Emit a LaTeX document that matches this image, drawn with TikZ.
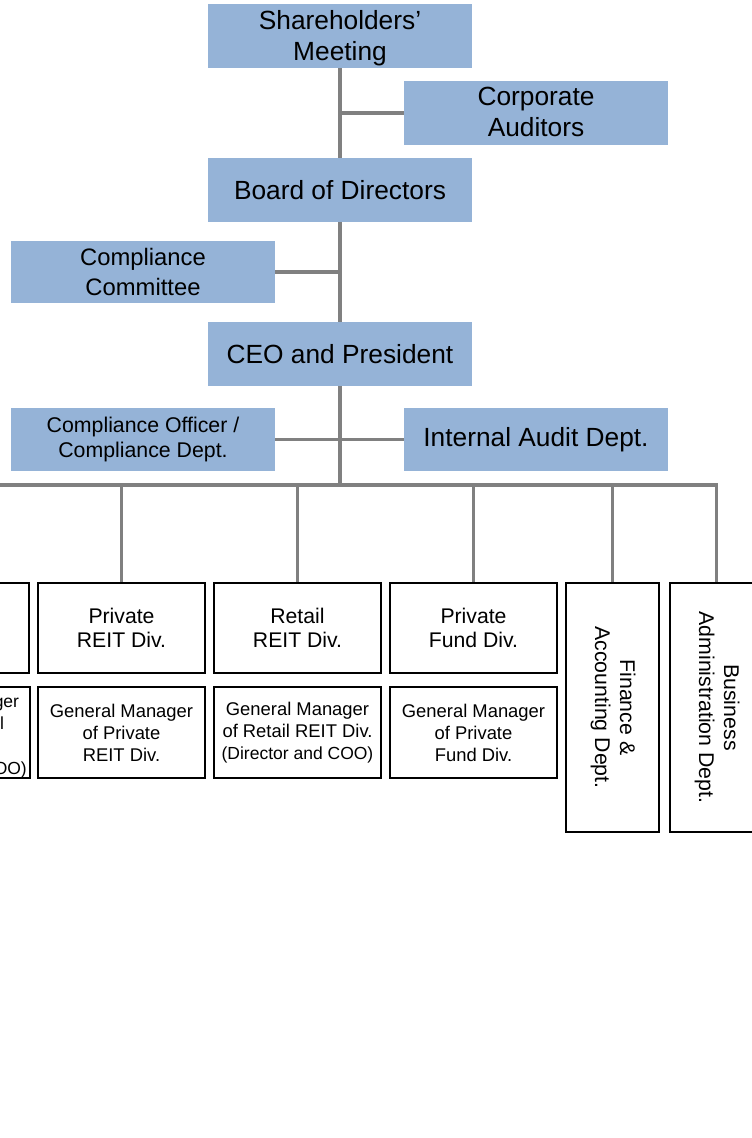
\documentclass[tikz,border=0pt]{standalone}
\usepackage{fontspec}
\setmainfont{Liberation Sans}
\usepackage{graphicx}
\definecolor{boxblue}{HTML}{95B3D7}
\definecolor{linegray}{HTML}{808080}
\tikzset{
  bluebox/.style={fill=boxblue, draw=none, inner sep=0pt, align=center, minimum width=264bp, minimum height=64bp},
  bigtxt/.style={font=\fontsize{26.3bp}{31bp}\selectfont},
  midtxt/.style={font=\fontsize{23.8bp}{30bp}\selectfont},
  smalltxt/.style={font=\fontsize{21.3bp}{25bp}\selectfont},
  blackbox/.style={draw=black, line width=2bp, fill=white, inner sep=0pt, align=center},
  divbox/.style={blackbox, minimum width=167bp, minimum height=90bp, font=\fontsize{21.2bp}{24bp}\selectfont},
  gmbox/.style={blackbox, minimum width=167bp, minimum height=91bp, font=\fontsize{18.4bp}{22bp}\selectfont},
  deptbox/.style={blackbox, minimum width=93bp, minimum height=249bp, font=\fontsize{21.3bp}{25bp}\selectfont},
  conn/.style={draw=linegray, line width=3.8bp},
}
\newcommand{\vtext}[1]{\rotatebox{-90}{\begin{tabular}{@{}c@{}}#1\end{tabular}}}
% lower the visible text without changing the box's reported size
\newcommand{\lowertext}[2]{\raisebox{-#1}[\height][\depth]{\begin{tabular}{@{}c@{}}#2\end{tabular}}}
\begin{document}
\begin{tikzpicture}[x=1bp, y=-1bp]
\useasboundingbox (0,0) rectangle (752,1138);
\clip (0,0) rectangle (752,1138);

% blue boxes
\node[bluebox, bigtxt] (sh) at (340,36) {\lowertext{3bp}{Shareholders'\\Meeting}};
\node[bluebox, bigtxt] (ca) at (536,113) {\lowertext{2bp}{Corporate\\Auditors}};
\node[bluebox, bigtxt] (bod) at (340,190) {Board of Directors};
\node[bluebox, midtxt, minimum height=62bp] (cc) at (143,272) {\lowertext{2bp}{Compliance\\Committee}};
\node[bluebox, bigtxt] (ceo) at (340,354) {CEO and President};
\node[bluebox, smalltxt, minimum height=63bp] (co) at (143,439.5) {Compliance Officer /\\Compliance Dept.};
\node[bluebox, bigtxt, minimum height=63bp] (ia) at (536,439.5) {Internal Audit Dept.};

% division boxes
\node[divbox] (p0) at (-54.5,628) {};
\node[divbox] (prd) at (121.5,628) {Private\\REIT Div.};
\node[divbox] (rrd) at (297.5,628) {Retail\\REIT Div.};
\node[divbox] (pfd) at (473.5,628) {Private\\Fund Div.};
\node[deptbox] (fa) at (612.5,707.5) {\vtext{Finance \&\\Accounting Dept.}};
\node[deptbox] (ba) at (716.5,707.5) {\vtext{Business\\Administration Dept.}};

% general manager boxes
\node[gmbox, minimum width=158bp, font=\fontsize{17.5bp}{22.5bp}\selectfont] (g0) at (-49,732.5) {\lowertext{4bp}{General Manager\\of Residential\\REIT Div.\\(Director and COO)}};
\node[gmbox] (g1) at (121.5,732.5) {General Manager\\of Private\\REIT Div.};
\node[gmbox] (g2) at (297.5,732.5) {General Manager\\of Retail REIT Div.\\{\fontsize{17.5bp}{22bp}\selectfont(Director and COO)}};
\node[gmbox] (g3) at (473.5,732.5) {General Manager\\of Private\\Fund Div.};

% connectors
\coordinate (bus) at (340,485);
\draw[conn] (sh.south) -- (bod.north);
\draw[conn] (ca.west) -- (ca.west -| sh.south);
\draw[conn] (bod.south) -- (ceo.north);
\draw[conn] (cc.east) -- (cc.east -| bod.south);
\draw[conn] (ceo.south) -- (bus);
\draw[conn] (co.east) -- (ia.west);
\draw[conn, line join=miter] (p0.north |- bus) -- (ba.north |- bus) -- (ba.north);
\draw[conn] (p0.north |- bus) -- (p0.north);
\draw[conn] (prd.north |- bus) -- (prd.north);
\draw[conn] (rrd.north |- bus) -- (rrd.north);
\draw[conn] (pfd.north |- bus) -- (pfd.north);
\draw[conn] (fa.north |- bus) -- (fa.north);
\end{tikzpicture}
\end{document}
